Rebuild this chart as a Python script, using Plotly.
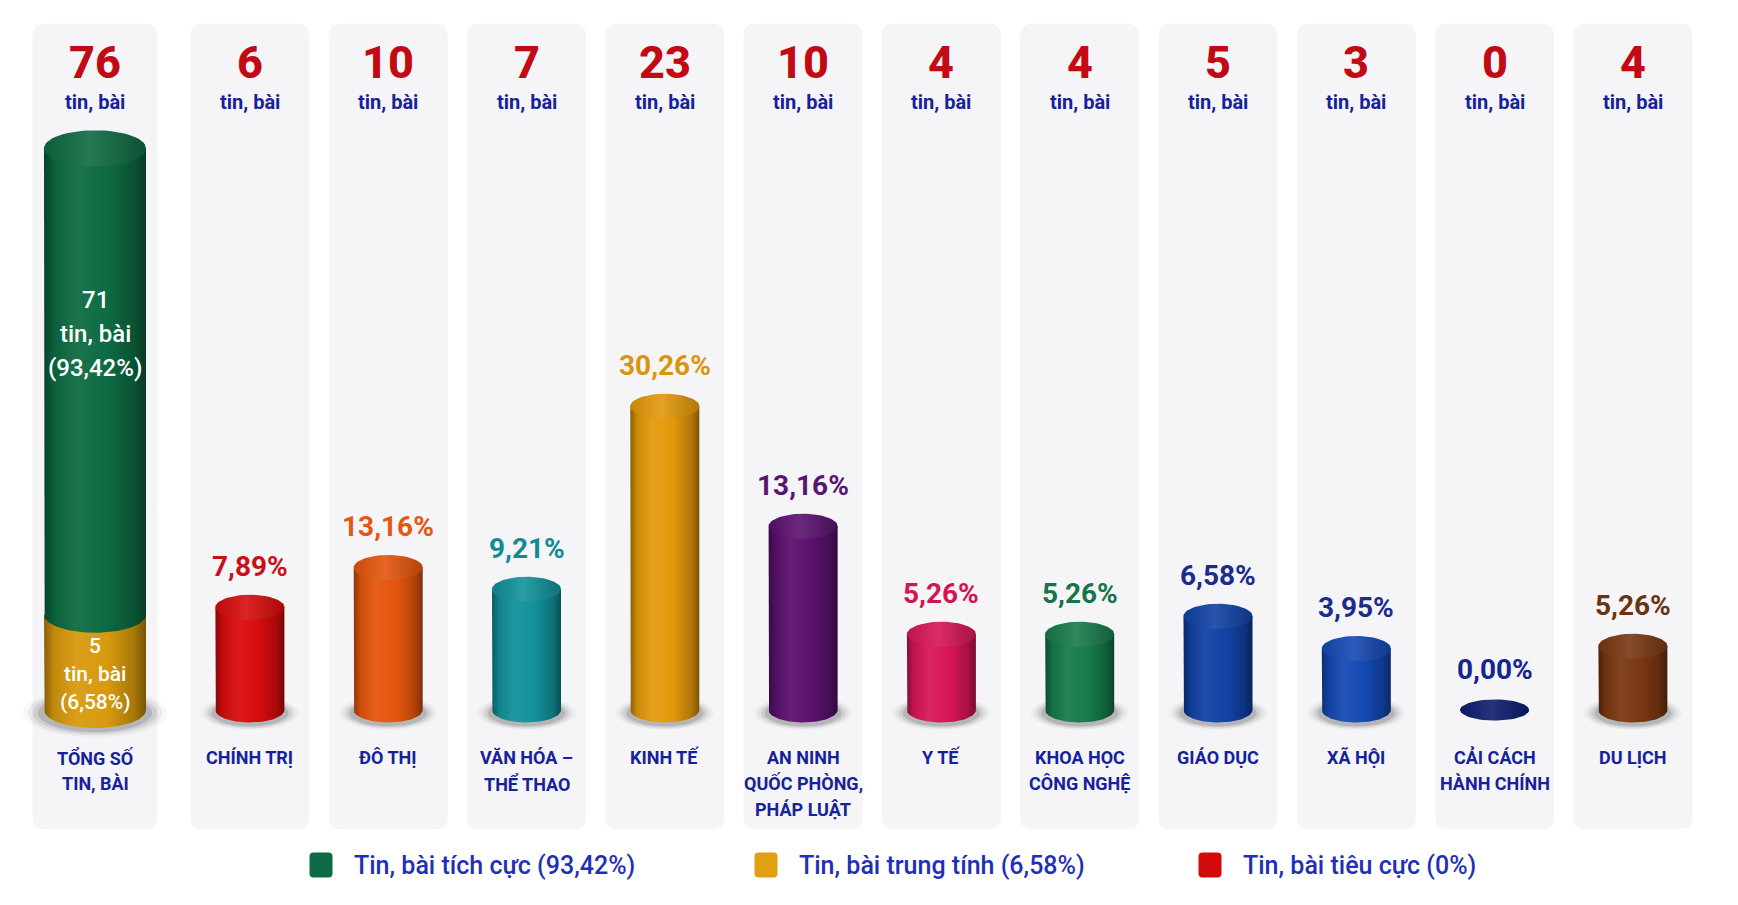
import numpy as np
import plotly.graph_objects as go

# ---- data ----
categories = ["TỔNG SỐ<br>TIN, BÀI", "CHÍNH TRỊ", "ĐÔ THỊ", "VĂN HÓA –<br>THỂ THAO", "KINH TẾ",
              "AN NINH<br>QUỐC PHÒNG,<br>PHÁP LUẬT", "Y TẾ", "KHOA HỌC<br>CÔNG NGHỆ", "GIÁO DỤC",
              "XÃ HỘI", "CẢI CÁCH<br>HÀNH CHÍNH", "DU LỊCH"]
counts = [76, 6, 10, 7, 23, 10, 4, 4, 5, 3, 0, 4]
shares = ["", "7,89%", "13,16%", "9,21%", "30,26%", "13,16%", "5,26%", "5,26%", "6,58%", "3,95%", "0,00%", "5,26%"]
# drawn heights of the cylinders (the infographic is not to scale with the counts)
bar_level = [74.9, 13.7, 19.0, 16.1, 40.5, 24.5, 10.1, 10.1, 12.5, 8.2, 0.0, 8.5]
positive_count, positive_share = 71, "93,42%"
neutral_count, neutral_share = 5, "6,58%"
neutral_level = 12.7
legend_labels = ["Tin, bài tích cực (93,42%)", "Tin, bài trung tính (6,58%)", "Tin, bài tiêu cực (0%)"]

bar_colors = ["#0d6b43", "#d80c0c", "#e5560d", "#12919a", "#e4990b", "#5b1170",
              "#d8155a", "#177b4b", "#1242a6", "#1549b4", "#0c1d6e", "#7a3812"]
share_colors = ["#000000", "#c8121a", "#e5570f", "#138a92", "#d9950c", "#5a1570",
                "#d4134f", "#17754a", "#1b2c8c", "#1b2c8c", "#14258c", "#6b3410"]
gold = "#d89a0d"
legend_colors = ["#0e6b45", "#e0a010", "#d40a0a"]

FONT = "Roboto"
NAVY = "#16229a"
RED_NUM = "#c20a14"
LEG_BLUE = "#1f30b8"

# page body has an 8px margin, so the figure is drawn 16px smaller than the window
W, H = 1722, 889
PX_X = 138.3    # pixels per column step
PX_Y = 7.5      # pixels per y unit
FIRST_GAP = 1.12  # the total column stands a bit apart from the topic columns
xpos = [0.0] + [FIRST_GAP + k for k in range(len(categories) - 1)]


def mix(hexcol, amt):
    c = np.array([int(hexcol[i:i + 2], 16) for i in (1, 3, 5)], dtype=float)
    c = c + (255 - c) * amt if amt > 0 else c * (1 + amt)
    return "rgb(%d,%d,%d)" % tuple(np.clip(c, 0, 255))


def body_scale(col):
    return [[0, mix(col, -0.38)], [0.1, mix(col, -0.1)], [0.32, mix(col, 0.06)],
            [0.62, col], [0.88, mix(col, -0.22)], [1, mix(col, -0.45)]]


def cap_scale(col):
    return [[0, mix(col, -0.12)], [0.45, mix(col, 0.1)], [1, mix(col, -0.22)]]


def ellipse(cx, cy, rx, ry, a0=0, a1=2 * np.pi, n=60):
    t = np.linspace(a0, a1, n)
    return cx + rx * np.cos(t), cy + ry * np.sin(t)


def body(cx, base, top, rx, ry, col):
    ex, ey = ellipse(cx, base, rx, ry, np.pi, 2 * np.pi)
    xs = np.concatenate([[cx - rx, cx - rx], ex, [cx + rx, cx + rx, cx - rx]])
    ys = np.concatenate([[top, base], ey, [base, top, top]])
    return go.Scatter(x=xs, y=ys, mode="lines", fill="toself", line=dict(width=0),
                      fillcolor=col, fillgradient=dict(type="horizontal", colorscale=body_scale(col)),
                      hoverinfo="skip", showlegend=False)


def cap(cx, cy, rx, ry, col):
    ex, ey = ellipse(cx, cy, rx, ry)
    return go.Scatter(x=ex, y=ey, mode="lines", fill="toself", line=dict(width=0),
                      fillcolor=col, fillgradient=dict(type="horizontal", colorscale=cap_scale(col)),
                      hoverinfo="skip", showlegend=False)


def rounded(x0, x1, y0, y1, rx, ry):
    return (f"M {x0 + rx},{y1} L {x1 - rx},{y1} Q {x1},{y1} {x1},{y1 - ry} "
            f"L {x1},{y0 + ry} Q {x1},{y0} {x1 - rx},{y0} L {x0 + rx},{y0} "
            f"Q {x0},{y0} {x0},{y0 + ry} L {x0},{y1 - ry} Q {x0},{y1} {x0 + rx},{y1} Z")


def lines_at(xc, yc, text, spacing, font, first_line=False, **kw):
    # one annotation per line so the line spacing can follow the picture
    parts = text.split("<br>")
    mid = 0 if first_line else (len(parts) - 1) / 2
    return [dict(x=xc, y=yc, text=p, showarrow=False, yshift=(mid - k) * spacing, font=font, **kw)
            for k, p in enumerate(parts)]


fig = go.Figure()
shapes = []
annotations = []

for i, cat in enumerate(categories):
    cx = xpos[i]
    # light panel behind each column
    pw = (62.5 if i == 0 else 59.5) / PX_X
    shapes.append(dict(type="path", path=rounded(cx - pw, cx + pw, -15.9, 91.5, 12 / PX_X, 12 / PX_Y),
                       xref="x", yref="y", fillcolor="#f5f5f8", line=dict(width=0), layer="below"))
    half = (51 if i == 0 else 34.5) / PX_X
    ry = (18 if i == 0 else 12.5) / PX_Y
    h = bar_level[i]
    # soft shadow at the foot, stacked to look blurred
    if h > 0:
        for s, a in [(1.42, 0.03), (1.32, 0.05), (1.22, 0.08), (1.12, 0.12)]:
            shapes.append(dict(type="circle", xref="x", yref="y", x0=cx - half * s, x1=cx + half * s,
                               y0=-0.4 - ry * s * 0.95, y1=-0.4 + ry * s * 0.95,
                               fillcolor=f"rgba(0,0,0,{a})", line=dict(width=0), layer="below"))

    if i == 0:
        fig.add_trace(body(cx, 0, neutral_level, half, ry, gold))
        fig.add_trace(body(cx, neutral_level, h, half, ry, bar_colors[i]))
        fig.add_trace(cap(cx, h, half, ry, bar_colors[i]))
        annotations += lines_at(cx, 50.2, f"{positive_count}<br>tin, bài<br>({positive_share})", 34,
                                dict(family=FONT, size=24, color="white", weight=500))
        annotations += lines_at(cx, 4.8, f"{neutral_count}<br>tin, bài<br>({neutral_share})", 28,
                                dict(family=FONT, size=21, color="white", weight=500))
    else:
        if h > 0:
            fig.add_trace(body(cx, 0, h, half, ry, bar_colors[i]))
            fig.add_trace(cap(cx, h, half, ry, bar_colors[i]))
        else:
            fig.add_trace(cap(cx, h, half, ry * 0.85, bar_colors[i]))
        annotations.append(dict(x=cx, y=h + ry, yanchor="bottom", yshift=10, text=shares[i], showarrow=False,
                                font=dict(family=FONT, size=28, color=share_colors[i], weight=700)))

    # count on top
    annotations.append(dict(x=cx, y=86.27, text=str(counts[i]), showarrow=False,
                            font=dict(family=FONT, size=45, color=RED_NUM, weight=800)))
    annotations.append(dict(x=cx, y=81.07, text="tin, bài", showarrow=False,
                            font=dict(family=FONT, size=20, color=NAVY, weight=700)))
    # category label
    annotations += lines_at(cx, -6.27, cat, 26, dict(family=FONT, size=18, color=NAVY, weight=700),
                            first_line=True)

# legend row (square centres in window pixels)
leg_px = [321, 766, 1210]
leg_y = -20.67
for px, lab, col in zip(leg_px, legend_labels, legend_colors):
    lx = (px - 95) / PX_X
    shapes.append(dict(type="path", xref="x", yref="y",
                       path=rounded(lx - 11.5 / PX_X, lx + 11.5 / PX_X, leg_y - 12.5 / PX_Y, leg_y + 12.5 / PX_Y,
                                    4 / PX_X, 4 / PX_Y),
                       fillcolor=col, line=dict(width=0)))
    annotations.append(dict(x=lx + 31 / PX_X, y=leg_y, xanchor="left", yanchor="middle",
                            text=lab, showarrow=False,
                            font=dict(family=FONT, size=25, color=LEG_BLUE, weight=500)))

x_left = -(95 - 8) / PX_X
y_top = (710 - 8) / PX_Y
fig.update_layout(
    width=W, height=H,
    margin=dict(l=0, r=0, t=0, b=0),
    paper_bgcolor="white", plot_bgcolor="white",
    xaxis=dict(range=[x_left, x_left + W / PX_X], visible=False, fixedrange=True),
    yaxis=dict(range=[y_top - H / PX_Y, y_top], visible=False, fixedrange=True),
    shapes=shapes, annotations=annotations,
    showlegend=False,
)

fig.write_html("out.html")
